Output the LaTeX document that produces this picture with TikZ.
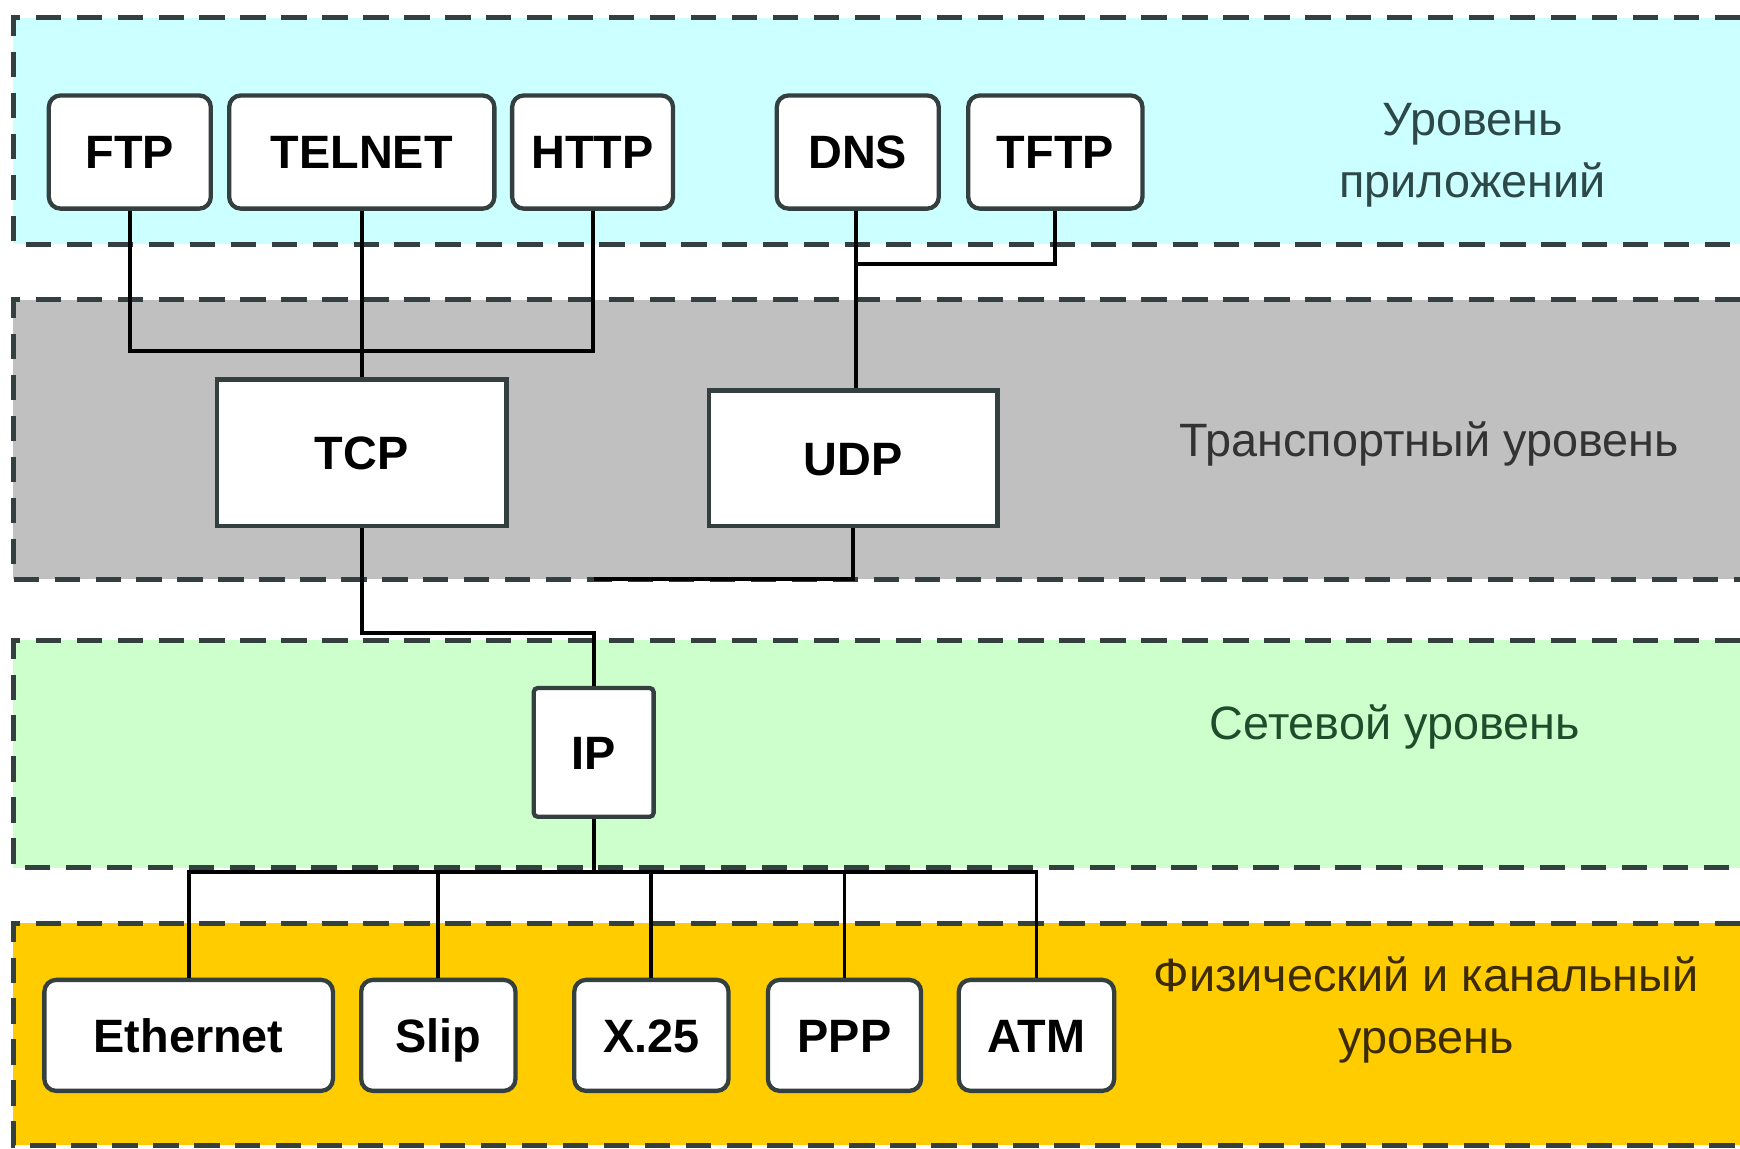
\documentclass[tikz,border=0pt]{standalone}
\usepackage{fontspec}
\setmainfont{Liberation Sans}
\usepackage{tikz}
\usetikzlibrary{positioning, calc}
\usepackage{xcolor}

\definecolor{appfill}{HTML}{CCFFFF}
\definecolor{trfill}{HTML}{C0C0C0}
\definecolor{netfill}{HTML}{CCFFCC}
\definecolor{physfill}{HTML}{FFCC00}
\definecolor{edgegray}{HTML}{33403F}
\definecolor{apptext}{HTML}{2C4848}
\definecolor{trtext}{HTML}{333333}
\definecolor{nettext}{HTML}{1E4D2B}
\definecolor{phystext}{HTML}{3D2B00}

\begin{document}
\begin{tikzpicture}[
    line width=1pt,
    band/.style={draw=edgegray, line width=1.3pt, dash pattern=on 6.5pt off 4pt},
    proto/.style={draw=edgegray, fill=white, line width=1.1pt, rounded corners=3pt,
        minimum height=1.02cm, inner sep=0pt, text height=8.6pt, text depth=0pt,
        font=\fontsize{12}{14}\selectfont\bfseries},
    tbox/.style={proto, rounded corners=0pt},
    layer/.style={align=center, font=\fontsize{12}{16}\selectfont}
]
    \useasboundingbox (0,0) rectangle (15.68,-10.35);

    % Layers
    \fill[appfill] (0.12,-0.16) rectangle (15.68,-2.20);
    \draw[band] (15.68,-0.16) -- (0.12,-0.16) -- (0.12,-2.20) -- (15.68,-2.20);
    \fill[trfill] (0.12,-2.70) rectangle (15.68,-5.22);
    \draw[band] (15.68,-2.70) -- (0.12,-2.70) -- (0.12,-5.22) -- (15.68,-5.22);
    \fill[netfill] (0.12,-5.77) rectangle (15.68,-7.82);
    \draw[band] (15.68,-5.77) -- (0.12,-5.77) -- (0.12,-7.82) -- (15.68,-7.82);
    \fill[physfill] (0.12,-8.32) rectangle (15.68,-10.32);
    \draw[band] (15.68,-8.32) -- (0.12,-8.32) -- (0.12,-10.32) -- (15.68,-10.32);

    % Layer names
    \node[layer, text=apptext] (applbl) at (13.27,-1.40) {Уровень\\приложений};
    \node[layer, text=trtext] (trlbl) at (12.88,-4.00) {Транспортный уровень};
    \node[layer, text=nettext] (netlbl) at (12.57,-6.55) {Сетевой уровень};
    \node[layer, text=phystext] (physlbl) at (12.85,-9.10) {Физический и канальный\\уровень};

    % Application protocols
    \node[proto, minimum width=1.46cm] (ftp) at (1.17,-1.37) {FTP};
    \node[proto, minimum width=2.39cm] (telnet) at (3.26,-1.37) {TELNET};
    \node[proto, minimum width=1.45cm] (http) at (5.34,-1.37) {HTTP};
    \node[proto, minimum width=1.46cm] (dns) at (7.73,-1.37) {DNS};
    \node[proto, minimum width=1.57cm] (tftp) at (9.51,-1.37) {TFTP};

    % Transport
    \node[tbox, minimum width=2.61cm, minimum height=1.32cm] (tcp) at (3.26,-4.08) {TCP};
    \node[tbox, minimum width=2.60cm, minimum height=1.22cm] (udp) at (7.69,-4.13) {UDP};

    % Network
    \node[proto, rounded corners=1pt, minimum width=1.08cm, minimum height=1.16cm] (ip) at (5.35,-6.78) {IP};

    % Physical and link
    \node[proto, minimum width=2.60cm, minimum height=1.00cm] (eth) at (1.70,-9.33) {Ethernet};
    \node[proto, minimum width=1.39cm, minimum height=1.00cm] (slip) at (3.95,-9.33) {Slip};
    \node[proto, minimum width=1.39cm, minimum height=1.00cm] (xtf) at (5.87,-9.33) {X.25};
    \node[proto, minimum width=1.38cm, minimum height=1.00cm] (ppp) at (7.61,-9.33) {PPP};
    \node[proto, minimum width=1.40cm, minimum height=1.00cm] (atm) at (9.34,-9.33) {ATM};

    % Buses
    \coordinate (tcpbus) at (3.26,-3.16);
    \coordinate (udpbus) at (7.71,-2.38);
    \coordinate (udpjoin) at (5.35,-5.22);
    \coordinate (ipjoin) at (5.35,-5.70);
    \coordinate (lanbus) at (5.35,-7.86);

    \draw (ftp.south) |- (tcpbus) -| (http.south);
    \draw (telnet.south) -- (tcp.north);
    \draw (dns.south -| udpbus) -- (udp.north -| udpbus);
    \draw (tftp.south) |- (udpbus);
    \draw (tcp.south) |- (ipjoin) -- (ip.north);
    \draw (udp.south) |- (udpjoin);
    \draw (ip.south) -- (lanbus);
    \foreach \n in {eth, slip, xtf, ppp, atm}
        \draw (\n.north) |- (lanbus);
\end{tikzpicture}
\end{document}
